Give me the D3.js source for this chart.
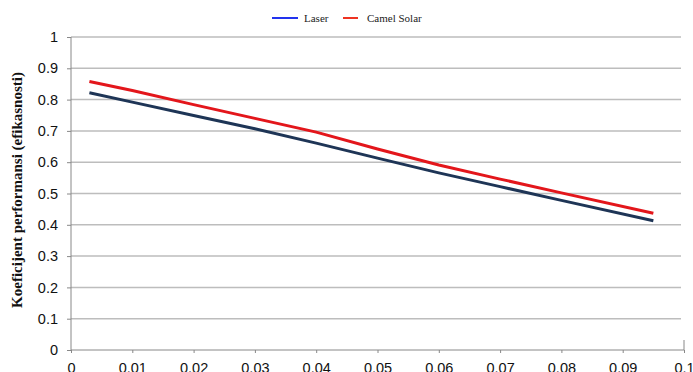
<!DOCTYPE html>
<html><head><meta charset="utf-8">
<script src="https://cdn.jsdelivr.net/npm/d3@7"></script>
<style>body{margin:0;background:#fff}svg{display:block}</style>
</head><body>
<svg id="c" width="693" height="372"></svg>
<script>
const xValues = [0.003, 0.01, 0.02, 0.03, 0.04, 0.05, 0.06, 0.07, 0.08, 0.095];
const laser = [0.822, 0.792, 0.749, 0.707, 0.661, 0.613, 0.566, 0.522, 0.478, 0.413];
const camelSolar = [0.858, 0.829, 0.784, 0.740, 0.696, 0.642, 0.591, 0.546, 0.502, 0.437];
const xTicks = [0, 0.01, 0.02, 0.03, 0.04, 0.05, 0.06, 0.07, 0.08, 0.09, 0.1];
const yTicks = [0, 0.1, 0.2, 0.3, 0.4, 0.5, 0.6, 0.7, 0.8, 0.9, 1];
const seriesNames = ["Laser", "Camel Solar"];

const svg = d3.select("#c");
const x = d3.scaleLinear().domain([0, 0.1]).range([71, 684]);
const y = d3.scaleLinear().domain([0, 1]).range([350, 37]);

// gridlines
svg.append("g").selectAll("line").data(yTicks.filter(d => d > 0)).join("line")
  .attr("x1", 71).attr("x2", 681)
  .attr("y1", d => y(d)).attr("y2", d => y(d))
  .attr("stroke", "#bdbdbd").attr("stroke-width", 1.5);

// y axis
const ya = svg.append("g").attr("transform", "translate(71,0)")
  .call(d3.axisLeft(y).tickValues(yTicks).tickFormat(d => d === 0 ? "0" : d === 1 ? "1" : d3.format(".1f")(d)).tickSize(4).tickPadding(9));
ya.select(".domain").attr("stroke", "#888").attr("d", `M-0,${y(1)}V${y(0)}`);
ya.selectAll(".tick line").attr("stroke", "#888");
ya.selectAll("text").attr("font-family", "Liberation Sans, Arial, sans-serif").attr("font-size", 14.5).attr("fill", "#111");

// x axis
const xa = svg.append("g").attr("transform", "translate(0,350)")
  .call(d3.axisBottom(x).tickValues(xTicks).tickFormat(d => d === 0 ? "0" : d === 0.1 ? "0.1" : d3.format(".2f")(d)).tickSize(3).tickPadding(10));
xa.select(".domain").attr("stroke", "#888").attr("d", `M${x(0)},0H${x(0.1)}`);
xa.selectAll(".tick line").attr("stroke", "#888");
xa.selectAll("text").attr("font-family", "Liberation Sans, Arial, sans-serif").attr("font-size", 14.5).attr("fill", "#111");
svg.append("line").attr("x1", x(0.1)).attr("x2", x(0.1)).attr("y1", 340).attr("y2", 350).attr("stroke", "#888");

// lines
const line = d3.line().x((d, i) => x(xValues[i])).y(d => y(d));
svg.append("path").datum(laser).attr("d", line).attr("fill", "none")
  .attr("stroke", "#1e3556").attr("stroke-width", 3);
svg.append("path").datum(camelSolar).attr("d", line).attr("fill", "none")
  .attr("stroke", "#e3161b").attr("stroke-width", 3);

// legend
const leg = svg.append("g").attr("font-family", "Liberation Serif, Times New Roman, serif").attr("font-size", 11).attr("fill", "#222");
leg.append("line").attr("x1", 272).attr("x2", 298).attr("y1", 18).attr("y2", 18).attr("stroke", "#2233ee").attr("stroke-width", 2);
leg.append("text").attr("x", 304).attr("y", 22).text(seriesNames[0]);
leg.append("line").attr("x1", 343).attr("x2", 358).attr("y1", 18).attr("y2", 18).attr("stroke", "#ee3322").attr("stroke-width", 2);
leg.append("text").attr("x", 367).attr("y", 22).text(seriesNames[1]);

// y title
svg.append("text").attr("transform", "translate(22,190) rotate(-90)")
  .attr("text-anchor", "middle").attr("font-family", "Liberation Serif, Times New Roman, serif")
  .attr("font-weight", "bold").attr("font-size", 15).attr("fill", "#111")
  .text("Koeficijent performansi (efikasnosti)");
</script>
</body></html>
